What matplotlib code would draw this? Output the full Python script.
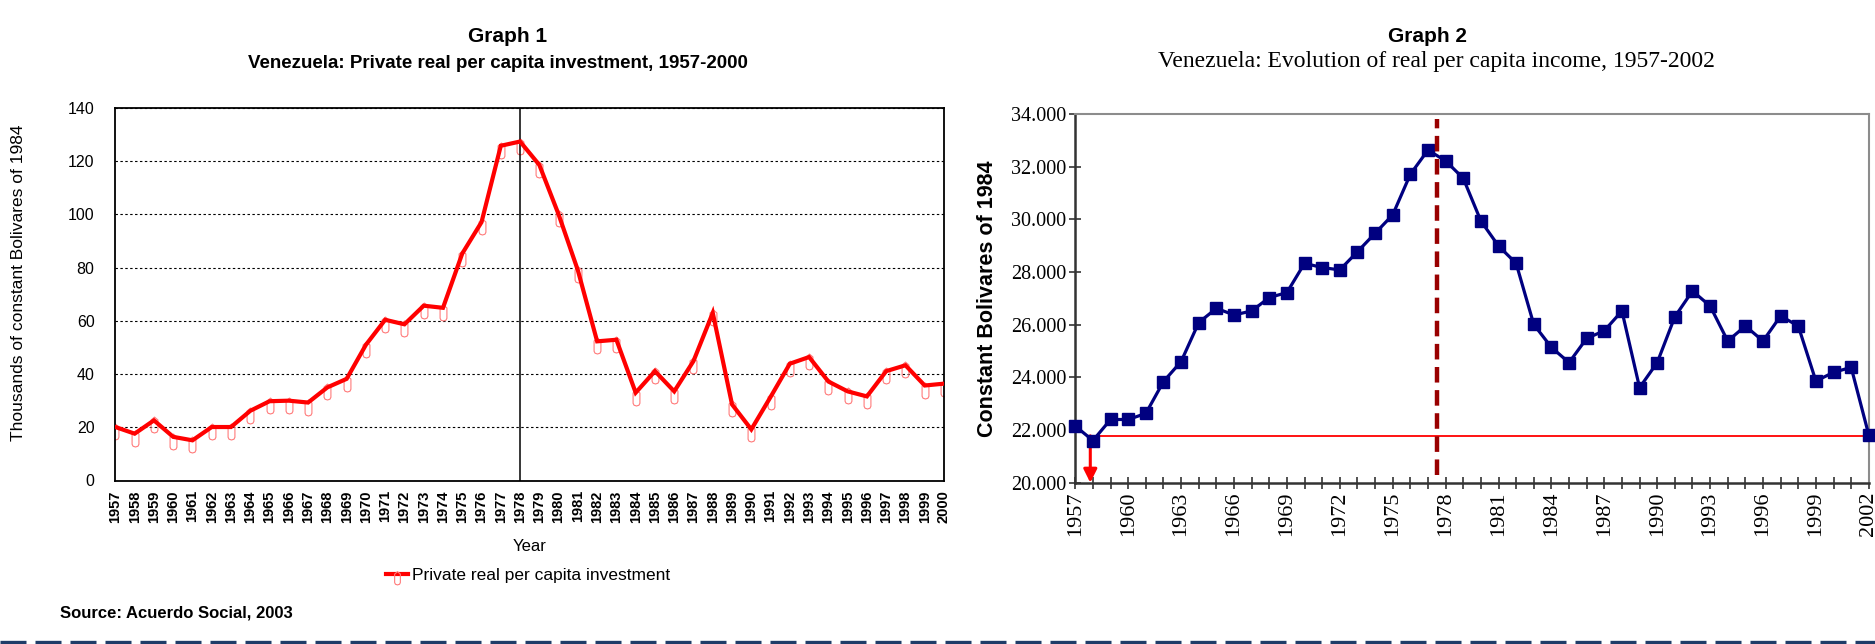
import numpy as np
import matplotlib
matplotlib.use("Agg")
import matplotlib.pyplot as plt
from matplotlib.path import Path
from matplotlib.lines import Line2D

# ---------------- data ----------------
years_inv = list(range(1957, 2001))
private_investment = [20.1, 17.6, 22.6, 16.4, 15.1, 20.1, 20.1, 26.2, 29.8, 30.0,
                      29.3, 35.0, 38.2, 51.0, 60.4, 58.7, 65.7, 64.9, 85.3, 97.1,
                      125.8, 127.4, 118.6, 100.0, 79.0, 52.3, 52.9, 33.0, 41.1, 33.5,
                      44.9, 63.0, 28.6, 19.2, 31.4, 43.9, 46.4, 37.2, 33.5, 31.6,
                      41.1, 43.3, 35.7, 36.4]
inv_yticks = [0, 20, 40, 60, 80, 100, 120, 140]
inv_marker_year = 1978

years_inc = list(range(1957, 2003))
income_per_capita = [22150, 21600, 22400, 22400, 22630, 23840, 24600, 26080, 26620, 26370,
                     26520, 27030, 27220, 28330, 28170, 28080, 28770, 29470, 30170, 31710,
                     32630, 32220, 31560, 29940, 28990, 28330, 26010, 25140, 24560, 25480,
                     25770, 26520, 23610, 24560, 26300, 27280, 26710, 25380, 25950, 25380,
                     26330, 25950, 23860, 24190, 24380, 21810]
inc_yticks = [20000, 22000, 24000, 26000, 28000, 30000, 32000, 34000]
inc_ytick_labels = ["20.000", "22.000", "24.000", "26.000", "28.000", "30.000", "32.000", "34.000"]
inc_label_years = [1957, 1960, 1963, 1966, 1969, 1972, 1975, 1978, 1981, 1984, 1987,
                   1990, 1993, 1996, 1999, 2002]
inc_reference_level = 21780
inc_reference_start = 1957.85
inc_peak_divider = 1977.5
inc_divider_range = (20300, 33800)

# ---------------- style ----------------
SANS = ["Liberation Sans", "DejaVu Sans"]
SERIF = ["Liberation Serif", "DejaVu Serif"]
plt.rcParams['font.family'] = SANS

W, H = 1875, 644
fig = plt.figure(figsize=(W / 100, H / 100), dpi=100)
fig.patch.set_facecolor("white")

def fx(px):
    return px / W

def fy(py):
    return 1 - py / H

# custom "pill" marker (hanging below the point)
mverts = [(0, 0.35), (0.35, 0.05), (0.35, -1.0), (0.25, -1.2), (0, -1.28),
          (-0.25, -1.2), (-0.35, -1.0), (-0.35, 0.05), (0, 0.35)]
pill = Path(mverts, [Path.MOVETO] + [Path.LINETO] * (len(mverts) - 2) + [Path.CLOSEPOLY])

# ---------------- Graph 1 ----------------
ax1_left, ax1_right, ax1_top, ax1_bottom = 115.4, 944.0, 108.0, 480.5
ax1 = fig.add_axes([fx(ax1_left), fy(ax1_bottom), fx(ax1_right - ax1_left),
                    (ax1_bottom - ax1_top) / H])
ax1.plot(years_inv, private_investment, color="#ff0000", lw=3.0, zorder=3,
         solid_joinstyle="miter")
ax1.plot(years_inv, private_investment, linestyle="none", marker=pill, markersize=18,
         markerfacecolor="none", markeredgecolor="#ff7a7a", markeredgewidth=0.8, zorder=2)
ax1.axvline(inv_marker_year, color="black", lw=1.1, zorder=2.5)
ax1.set_xlim(years_inv[0], years_inv[-1])
ax1.set_ylim(inv_yticks[0], inv_yticks[-1])
ax1.set_yticks(inv_yticks)
ax1.set_xticks(years_inv)
ax1.set_xticklabels([str(y) for y in years_inv], rotation=90, fontweight="bold",
                    fontsize=10.5)
for t in ax1.get_yticklabels():
    t.set_fontsize(11.5)
ax1.tick_params(axis="y", length=0, pad=15)
ax1.tick_params(axis="x", length=0, pad=7)
ax1.yaxis.grid(True, color="black", linestyle=(0, (2.2, 2.2)), lw=0.8)
ax1.set_axisbelow(True)
for s in ax1.spines.values():
    s.set_color("black")
    s.set_linewidth(1.3)
ax1_w = ax1_right - ax1_left
ax1_h = ax1_bottom - ax1_top
ax1.set_ylabel("Thousands of constant Bolivares of 1984", fontsize=12.5)
ax1.yaxis.set_label_coords((26 - ax1_left) / ax1_w, 0.53)
ax1.set_xlabel("Year", fontsize=12)
ax1.xaxis.set_label_coords(0.5, (ax1_bottom - 539) / ax1_h)

fig.text(fx(508), fy(37), "Graph 1", ha="center", va="center", fontsize=15,
         fontweight="bold")
fig.text(fx(498), fy(64), "Venezuela: Private real per capita investment, 1957-2000",
         ha="center", va="center", fontsize=13.5, fontweight="bold")

leg_handle = Line2D([], [], color="#ff0000", lw=3.0, marker=pill, markersize=15,
                    markerfacecolor="none", markeredgecolor="#ff7a7a", markeredgewidth=0.8)
fig.legend([leg_handle], ["Private real per capita investment"], loc="center",
           bbox_to_anchor=(fx(528), fy(575)), frameon=False, fontsize=12.5,
           handlelength=1.3, handletextpad=0.2, borderaxespad=0)

fig.text(fx(60), fy(613), "Source: Acuerdo Social, 2003", ha="left", va="center",
         fontsize=12, fontweight="bold")

# ---------------- Graph 2 ----------------
ax2_left, ax2_right, ax2_top, ax2_bottom = 1075.3, 1868.8, 114.0, 482.7
ax2_w = ax2_right - ax2_left
ax2_h = ax2_bottom - ax2_top
ax2 = fig.add_axes([fx(ax2_left), fy(ax2_bottom), fx(ax2_w), ax2_h / H])
ax2.plot(years_inc, income_per_capita, color="#000080", lw=2.3, marker="s",
         markersize=9, markerfacecolor="#000080", markeredgecolor="#000080",
         zorder=4, clip_on=False)
ax2.plot([inc_reference_start, years_inc[-1]], [inc_reference_level, inc_reference_level],
         color="#ff0000", lw=1.3, zorder=3)
ax2.annotate("", xy=(inc_reference_start, inc_yticks[0]),
             xytext=(inc_reference_start, inc_reference_level),
             arrowprops=dict(arrowstyle="-|>", color="#ff0000", lw=2.2,
                             mutation_scale=20, shrinkA=0, shrinkB=0),
             zorder=3, annotation_clip=False)
ax2.plot([inc_peak_divider, inc_peak_divider], list(inc_divider_range),
         color="#990000", lw=3.2, linestyle=(0, (3.5, 1.7)), zorder=5)
ax2.set_xlim(years_inc[0], years_inc[-1])
ax2.set_ylim(inc_yticks[0], inc_yticks[-1])
ax2.set_yticks(inc_yticks)
ax2.set_yticklabels(inc_ytick_labels, family=SERIF, fontsize=14.5)
ax2.set_xticks(years_inc)
ax2.set_xticklabels([str(y) if y in inc_label_years else "" for y in years_inc],
                    rotation=90, family=SERIF, fontsize=16)
ax2.tick_params(axis="both", direction="inout", length=8.6, width=1.1, color="#222222")
ax2.tick_params(axis="x", pad=2)
ax2.tick_params(axis="y", pad=2)
for side in ("left", "bottom"):
    ax2.spines[side].set_color("#333333")
    ax2.spines[side].set_linewidth(1.8)
for side in ("top", "right"):
    ax2.spines[side].set_color("#8c8c8c")
    ax2.spines[side].set_linewidth(1.5)
ax2.set_ylabel("Constant Bolivares of 1984", fontsize=15.5, fontweight="bold")
ax2.yaxis.set_label_coords((998 - ax2_left) / ax2_w, (ax2_bottom - 299) / ax2_h)

fig.text(fx(1428), fy(37), "Graph 2", ha="center", va="center", fontsize=15,
         fontweight="bold")
fig.text(fx(1436), fy(61), "Venezuela: Evolution of real per capita income, 1957-2002",
         ha="center", va="center", fontsize=17, family=SERIF)

# ---------------- bottom dashed rule ----------------
fig.add_artist(Line2D([0, 1], [fy(641.5), fy(641.5)], transform=fig.transFigure,
                      color="#1f3c68", lw=2.4, linestyle=(0, (7.8, 2.7))))

fig.savefig("out.png", dpi=100, facecolor="white")
